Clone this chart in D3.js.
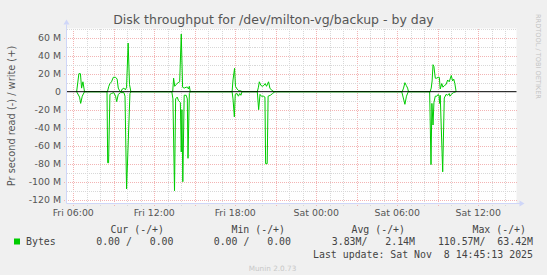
<!DOCTYPE html>
<html>
<head>
<meta charset="utf-8">
<script src="https://cdn.jsdelivr.net/npm/d3@7"></script>
<style>
  html, body { margin: 0; padding: 0; background: #F0F0F0; }
  svg { display: block; }
  text { white-space: pre; }
</style>
</head>
<body>
<svg id="chart"></svg>
<script>
// minutes after Fri 00:00 (Nov 7 2025), value in MB/s
const writePoints = [
  [375, 0], [385, 20], [392, 20], [397, 4], [403, 11], [410, 0],
  [512, 0], [518, 6], [523, 9], [530, 11], [538, 16], [548, 16], [555, 14], [560, 4], [566, 1], [572, 0],
  [578, 3], [585, 4], [592, 2], [597, 5], [604, 54], [610, 8], [616, 0],
  [802, 0], [806, 15], [811, 6], [817, 8], [826, 10], [833, 11], [840, 64], [846, 5], [853, 4], [862, 5],
  [868, 5], [872, 3], [876, 6], [880, 0],
  [1066, 0], [1070, 13], [1077, 26], [1081, 6], [1088, 3], [1096, 1], [1105, 1], [1110, 0],
  [1178, 0], [1183, 5], [1187, 11], [1194, 7], [1201, 6], [1207, 7], [1213, 9], [1219, 6], [1228, 11],
  [1234, 4], [1240, 2], [1252, 0],
  [1822, 0], [1828, 4], [1834, 10], [1840, 7], [1846, 4], [1850, 0],
  [1946, 0], [1951, 4], [1955, 12], [1959, 30], [1963, 28], [1969, 15], [1975, 15], [1982, 16], [1987, 16],
  [1991, 3], [1998, 9], [2003, 5], [2010, 7], [2017, 8], [2024, 13], [2031, 11], [2040, 18], [2046, 12],
  [2051, 14], [2056, 9], [2061, 1], [2065, 0]
]

// read rates, drawn below zero
const readPoints = [
  [375, 0], [388, 6], [393, 13], [400, 5], [410, 0],
  [510, 0], [513, 79], [517, 79], [523, 3], [530, 2], [540, 1], [548, 5], [553, 11], [560, 3], [570, 1],
  [585, 1], [590, 5], [597, 108], [612, 2], [616, 0],
  [798, 0], [803, 8], [810, 110], [815, 8], [822, 6], [828, 10], [836, 12], [840, 67], [843, 20], [847, 100],
  [853, 4], [862, 4], [867, 8], [870, 74], [876, 2], [880, 0],
  [1066, 0], [1070, 8], [1076, 28], [1080, 3], [1088, 2], [1094, 5], [1100, 2], [1105, 4], [1110, 0],
  [1178, 0], [1184, 20], [1190, 3], [1196, 5], [1205, 5], [1212, 6], [1215, 80], [1222, 80], [1226, 5],
  [1236, 4], [1246, 2], [1256, 0],
  [1820, 0], [1827, 7], [1834, 14], [1841, 5], [1849, 0],
  [1944, 0], [1950, 81], [1954, 13], [1959, 37], [1963, 12], [1969, 5], [1976, 5], [1982, 3], [1986, 5],
  [1988, 13], [1991, 4], [2002, 89], [2009, 7], [2017, 3], [2024, 4], [2031, 2], [2034, 5], [2040, 3],
  [2050, 1], [2061, 0]
]

const yMajor = [-120, -100, -80, -60, -40, -20, 20, 40, 60]
const yMinor = [-110, -90, -70, -50, -30, -10, 10, 30, 50, 70]
const yLabels = [-120, -100, -80, -60, -40, -20, 0, 20, 40, 60]

const legendHeads = ['Cur (-/+)', 'Min (-/+)', 'Avg (-/+)', 'Max (-/+)']
const legendVals = ['0.00 /   0.00', '0.00 /   0.00', '3.83M/   2.14M', '110.57M/  63.42M']
const lastUpdate = 'Last update: Sat Nov  8 14:45:13 2025'

const width = 547
const height = 275
const pLeft = 66.5, pRight = 516.5, pTop = 28.5, pBottom = 203.5

const t = m => new Date(2025, 10, 7, 0, m)

const x = d3.scaleTime()
    .domain([new Date(2025, 10, 7, 5, 30), new Date(2025, 10, 8, 14, 50)])
    .range([pLeft, pRight])

const y = d3.scaleLinear()
    .domain([-124.2, 70.2])
    .range([pBottom, pTop])

const svg = d3.select('#chart')
    .attr('width', width)
    .attr('height', height)

svg.append('rect').attr('width', width).attr('height', height).attr('fill', '#F0F0F0')
svg.append('rect')
    .attr('x', pLeft).attr('y', pTop)
    .attr('width', pRight - pLeft).attr('height', pBottom - pTop)
    .attr('fill', '#FFFFFF')

const px = v => Math.round(v) + 0.5
const majorColor = '#F3B4B4'
const minorColor = '#D8D8D8'

// grid
const grid = svg.append('g').attr('shape-rendering', 'crispEdges')

const hours = x.ticks(d3.timeHour.every(1))
hours.forEach(h => {
    const major = h.getHours() % 3 === 0
    grid.append('line')
        .attr('x1', px(x(h))).attr('x2', px(x(h)))
        .attr('y1', pTop).attr('y2', pBottom + 3)
        .attr('stroke', major ? majorColor : minorColor)
        .attr('stroke-dasharray', '1,1')
})

yMinor.forEach(v => {
    grid.append('line')
        .attr('x1', pLeft).attr('x2', pRight)
        .attr('y1', px(y(v))).attr('y2', px(y(v)))
        .attr('stroke', minorColor)
        .attr('stroke-dasharray', '1,1')
})
yMajor.forEach(v => {
    grid.append('line')
        .attr('x1', pLeft - 3).attr('x2', pRight)
        .attr('y1', px(y(v))).attr('y2', px(y(v)))
        .attr('stroke', majorColor)
        .attr('stroke-dasharray', '1,1')
})

// data lines
const line = sign => d3.line()
    .x(d => x(t(d[0])))
    .y(d => y(sign * d[1]))

svg.append('path')
    .datum(readPoints)
    .attr('d', line(-1))
    .attr('fill', 'none')
    .attr('stroke', '#00CC00')
    .attr('stroke-width', 1)

svg.append('path')
    .datum(writePoints)
    .attr('d', line(1))
    .attr('fill', 'none')
    .attr('stroke', '#00CC00')
    .attr('stroke-width', 1)

// zero rule
svg.append('line')
    .attr('x1', pLeft).attr('x2', pRight)
    .attr('y1', y(0)).attr('y2', y(0))
    .attr('stroke', '#000000')
    .attr('stroke-width', 1)

// axes
const axisColor = '#CFD6F8'
svg.append('line')
    .attr('x1', pLeft).attr('x2', pLeft).attr('y1', pTop - 4).attr('y2', pBottom)
    .attr('stroke', axisColor)
svg.append('line')
    .attr('x1', pLeft).attr('x2', pRight + 4).attr('y1', pBottom).attr('y2', pBottom)
    .attr('stroke', axisColor)
svg.append('path')
    .attr('d', `M${pLeft - 3},${pTop - 4} L${pLeft + 3},${pTop - 4} L${pLeft},${pTop - 9} Z`)
    .attr('fill', axisColor)
svg.append('path')
    .attr('d', `M${pRight + 3},${pBottom - 3} L${pRight + 3},${pBottom + 3} L${pRight + 8},${pBottom} Z`)
    .attr('fill', axisColor)

// tick labels
const labelFont = 'DejaVu Sans, sans-serif'
svg.append('g').selectAll('text')
    .data(yLabels)
    .enter()
    .append('text')
    .attr('x', 61)
    .attr('y', d => y(d) + 3.4)
    .attr('text-anchor', 'end')
    .attr('font-family', labelFont)
    .attr('font-size', 9.4)
    .attr('fill', '#555555')
    .text(d => d === 0 ? '0' : d + ' M')

const fmt = d3.timeFormat('%a %H:%M')
svg.append('g').selectAll('text')
    .data(x.ticks(d3.timeHour.every(6)).filter(d => d.getHours() % 6 === 0))
    .enter()
    .append('text')
    .attr('x', d => x(d))
    .attr('y', 216)
    .attr('text-anchor', 'middle')
    .attr('font-family', labelFont)
    .attr('font-size', 9.4)
    .attr('fill', '#555555')
    .text(d => fmt(d))

// title
svg.append('text')
    .attr('x', 273.5).attr('y', 23.5)
    .attr('text-anchor', 'middle')
    .attr('font-family', labelFont)
    .attr('font-size', 12.5)
    .attr('fill', '#555555')
    .text('Disk throughput for /dev/milton-vg/backup - by day')

// vertical label
svg.append('text')
    .attr('transform', `translate(14.5, ${(pTop + pBottom) / 2}) rotate(-90)`)
    .attr('text-anchor', 'middle')
    .attr('font-family', labelFont)
    .attr('font-size', 9.8)
    .attr('fill', '#555555')
    .text('Pr second read (-) / write (+)')

svg.append('text')
    .attr('transform', 'translate(536, 14) rotate(90)')
    .attr('font-family', labelFont)
    .attr('font-size', 6.6)
    .attr('fill', '#C4C4C4')
    .text('RRDTOOL / TOBI OETIKER')

// legend
const mono = 'DejaVu Sans Mono, monospace'
svg.append('rect')
    .attr('x', 14).attr('y', 238.5).attr('width', 6).attr('height', 6)
    .attr('fill', '#00CC00')
svg.append('text')
    .attr('x', 26).attr('y', 245)
    .attr('font-family', mono).attr('font-size', 9.9).attr('fill', '#444444')
    .text('Bytes')

const headEnds = [164, 285, 405, 526]
const valEnds = [173.5, 291, 415, 533]
legendHeads.forEach((s, i) => {
    svg.append('text')
        .attr('x', headEnds[i]).attr('y', 232.5)
        .attr('text-anchor', 'end')
        .attr('font-family', mono).attr('font-size', 9.9).attr('fill', '#444444')
        .text(s)
})
legendVals.forEach((s, i) => {
    svg.append('text')
        .attr('x', valEnds[i]).attr('y', 245)
        .attr('text-anchor', 'end')
        .attr('font-family', mono).attr('font-size', 9.9).attr('fill', '#444444')
        .text(s)
})
svg.append('text')
    .attr('x', 533).attr('y', 257.5)
    .attr('text-anchor', 'end')
    .attr('font-family', mono).attr('font-size', 9.9).attr('fill', '#444444')
    .text(lastUpdate)

svg.append('text')
    .attr('x', 272.5).attr('y', 271)
    .attr('text-anchor', 'middle')
    .attr('font-family', labelFont)
    .attr('font-size', 7.3)
    .attr('fill', '#C8C8C8')
    .text('Munin 2.0.73')
</script>
</body>
</html>
